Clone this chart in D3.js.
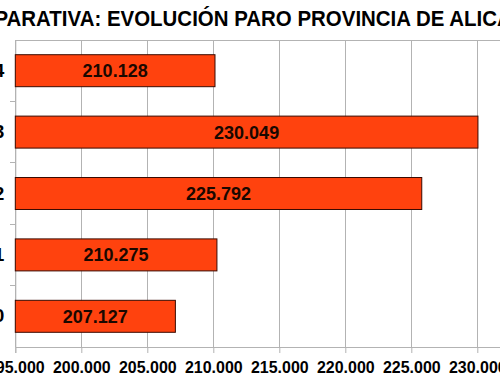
<!DOCTYPE html>
<html>
<head>
<meta charset="utf-8">
<script src="https://cdn.jsdelivr.net/npm/d3@7"></script>
<style>
  html, body { margin: 0; padding: 0; background: #fff; overflow: hidden; }
  svg { display: block; }
  text { font-family: "Liberation Sans", Arial, sans-serif; font-weight: bold; }
</style>
</head>
<body>
<script>
const title = "COMPARATIVA: EVOLUCIÓN PARO PROVINCIA DE ALICANTE";
const years = ["2014", "2013", "2012", "2011", "2010"];
const values = [210128, 230049, 225792, 210275, 207127];
const xTicks = [195000, 200000, 205000, 210000, 215000, 220000, 225000, 230000, 235000];

const W = 500, H = 380;
const plot = { left: 15.3, top: 40, bottom: 347, right: 15.3 + 8 * 66 };

const locale = d3.formatLocale({ decimal: ",", thousands: ".", grouping: [3], currency: ["", " €"] });
const fmt = locale.format(",d");

const svg = d3.select("body").append("svg")
  .attr("width", W).attr("height", H)
  .style("overflow", "hidden");

svg.append("rect").attr("width", W).attr("height", H).attr("fill", "#fff");

const x = d3.scaleLinear().domain([195000, 235000]).range([plot.left, plot.right]);
const y = d3.scaleBand().domain(years).range([plot.top, plot.bottom])
  .paddingInner(0.479).paddingOuter(0.2395);

// gridlines
svg.append("g").selectAll("line").data(xTicks).join("line")
  .attr("x1", d => x(d)).attr("x2", d => x(d))
  .attr("y1", plot.top).attr("y2", plot.bottom)
  .attr("stroke", "#b3b3b3").attr("stroke-width", 1)
  .attr("shape-rendering", "crispEdges");

// top border
svg.append("line")
  .attr("x1", plot.left).attr("x2", plot.right)
  .attr("y1", plot.top).attr("y2", plot.top)
  .attr("stroke", "#b3b3b3").attr("shape-rendering", "crispEdges");

// x axis
const xAxis = svg.append("g")
  .attr("transform", `translate(0,${plot.bottom})`)
  .call(d3.axisBottom(x).tickValues(xTicks).tickFormat(fmt).tickSize(6).tickPadding(8));
xAxis.select(".domain").attr("stroke", "#b3b3b3");
xAxis.selectAll(".tick line").attr("stroke", "#b3b3b3");
xAxis.selectAll(".tick text")
  .attr("fill", "#000")
  .attr("transform", "scale(0.94,1)")
  .style("font-size", "17px")
  .style("font-family", "'Liberation Sans', Arial, sans-serif")
  .style("font-weight", "bold");

// y axis
const yAxis = svg.append("g")
  .attr("transform", `translate(${plot.left},0)`)
  .call(d3.axisLeft(y).tickSize(0).tickPadding(11));
yAxis.select(".domain").attr("stroke", "#b3b3b3");
yAxis.selectAll(".tick text")
  .attr("fill", "#000")
  .style("font-size", "19px")
  .style("font-family", "'Liberation Sans', Arial, sans-serif")
  .style("font-weight", "bold");

// y tick marks at band boundaries
const step = y.step();
const bounds = years.slice(1).map(d => y(d) - (step - y.bandwidth()) / 2);
svg.append("g").selectAll("line").data(bounds).join("line")
  .attr("x1", plot.left - 5).attr("x2", plot.left)
  .attr("y1", d => d).attr("y2", d => d)
  .attr("stroke", "#b3b3b3").attr("shape-rendering", "crispEdges");

// bars
svg.append("g").selectAll("rect").data(years).join("rect")
  .attr("x", x(195000))
  .attr("y", d => y(d))
  .attr("width", (d, i) => x(values[i]) - x(195000))
  .attr("height", y.bandwidth())
  .attr("fill", "#ff420e")
  .attr("stroke", "#3a0a00")
  .attr("stroke-width", 1);

// value labels
svg.append("g").selectAll("text").data(years).join("text")
  .attr("x", (d, i) => (x(195000) + x(values[i])) / 2)
  .attr("y", d => y(d) + y.bandwidth() / 2)
  .attr("dy", "0.36em")
  .attr("text-anchor", "middle")
  .attr("fill", "#1a0800")
  .style("font-size", "18px")
  .text((d, i) => fmt(values[i]));

// title
const sx = 0.93;
const tg = svg.append("g");
const t = tg.append("text")
  .attr("x", 0)
  .attr("y", 26)
  .attr("fill", "#000")
  .style("font-size", "22px")
  .text(title);
const off = t.node().getSubStringLength(0, 13);
tg.attr("transform", `translate(${107 - sx * off},0) scale(${sx},1)`);
</script>
</body>
</html>
